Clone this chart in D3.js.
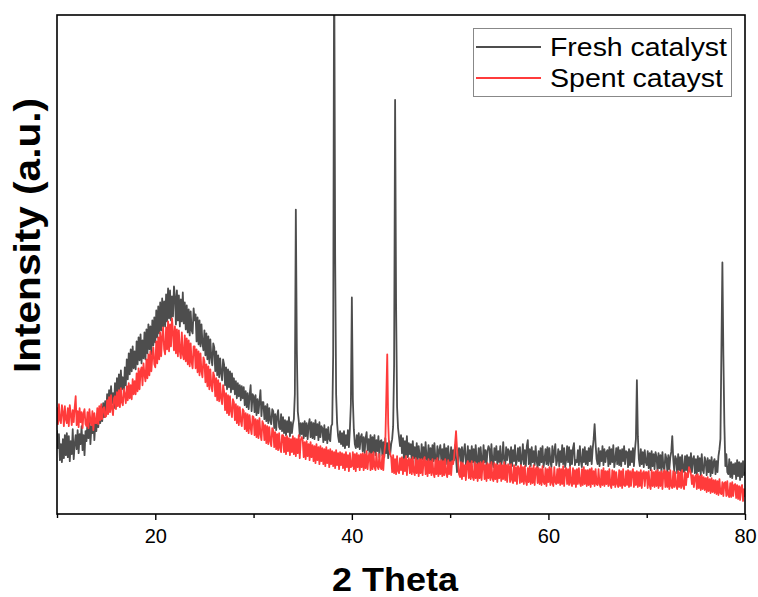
<!DOCTYPE html>
<html><head><meta charset="utf-8">
<script src="https://cdn.jsdelivr.net/npm/d3@7/dist/d3.min.js"></script>
<style>body{margin:0;background:#fff}text{font-family:"Liberation Sans",Arial,sans-serif}</style>
</head><body>
<svg id="c" width="758" height="597"></svg>
<script>
const twoThetaStart = 10, twoThetaStep = 0.1;
const seriesNames = ["Fresh catalyst", "Spent catayst"];
const seriesColors = ["#4d4d4d", "#ff3b3b"];
const xTicks = [10, 20, 30, 40, 50, 60, 70, 80];
const xLabels = [20, 40, 60, 80];
const fresh = [
168,132,160,108,140,104,150,112,158,118,
162,114,156,106,146,120,170,110,140,158,
130,168,122,160,140,176,128,158,118,166,
146,184,152,190,140,176,162,196,148,182,
166,200,174,210,182,216,186,222,194,226,
200,240,210,248,216,256,222,242,212,262,
230,272,240,280,246,288,250,274,244,294,
258,310,270,322,280,330,286,336,292,326,
290,346,300,354,308,360,302,348,312,364,
310,370,322,380,330,376,320,388,338,394,
344,408,354,416,362,424,368,432,376,426,
376,440,386,452,392,448,388,436,396,456,
436,380,448,388,438,376,430,386,444,382,
424,370,418,364,410,358,406,368,362,412,
388,400,346,394,340,388,336,380,342,328,
368,318,362,310,356,302,350,314,298,342,
334,286,326,278,318,274,312,282,268,310,
300,258,294,250,290,254,286,244,282,250,
272,240,266,232,262,236,258,228,256,232,
254,218,246,214,242,210,238,258,206,240,
236,204,238,198,230,202,226,248,196,224,
224,190,216,186,220,182,212,188,180,210,
206,172,200,168,196,208,174,170,200,166,
194,162,188,158,186,164,194,156,184,162,
180,190,240,610,330,205,186,156,182,160,
182,152,186,156,182,150,178,190,154,184,
152,182,150,188,158,180,148,184,154,176,
172,144,178,148,170,142,174,150,146,176,
180,320,1150,520,240,182,156,144,166,140,
162,136,166,132,158,138,168,134,170,220,
434,230,170,140,132,158,134,162,130,154,
160,126,154,122,152,164,128,150,120,158,
120,154,124,158,118,148,126,156,114,146,
148,118,144,114,152,122,142,112,146,120,
140,150,175,300,830,420,215,172,154,136,
158,122,152,110,146,118,156,114,142,120,
140,102,146,112,134,100,142,108,136,114,
104,140,110,134,98,144,112,106,138,108,
132,100,138,106,142,110,96,136,104,128,
138,106,130,98,140,108,132,100,136,110,
104,134,100,128,108,138,112,84,98,132,
130,96,134,104,126,140,100,108,136,102,
128,98,136,104,130,94,138,106,100,132,
100,134,108,96,138,104,128,98,126,136,
130,98,140,106,94,132,108,136,100,126,
104,136,98,110,144,106,96,134,108,130,
126,100,134,96,128,106,138,98,108,132,
106,134,98,110,140,100,128,96,136,148,
100,130,96,134,104,126,98,136,106,94,
126,98,132,104,136,94,108,130,100,134,
98,132,106,94,136,104,126,140,98,108,
130,96,126,104,138,100,132,94,108,136,
104,134,96,128,100,132,142,98,108,104,
128,98,136,106,94,130,104,134,100,126,
98,132,106,136,100,130,150,180,140,110,
100,132,96,126,106,136,98,130,104,124,
128,96,134,100,130,104,138,94,108,132,
100,134,98,128,96,130,106,136,100,126,
124,94,130,98,126,104,132,96,128,150,
268,155,110,96,130,100,124,94,128,104,
98,126,92,122,88,126,96,120,90,124,
114,86,122,92,118,84,124,94,88,120,
112,84,118,90,114,125,156,110,86,116,
110,82,120,88,114,80,118,90,84,116,
88,118,82,114,86,122,84,110,116,82,
110,80,116,86,112,78,120,88,82,114,
106,78,112,84,108,76,114,82,104,110,
80,106,84,116,130,150,330,504,318,180,
96,120,84,80,110,74,104,72,100,80,
102,70,108,76,104,68,102,74,106,78,
84];
const spent = [
214,180,220,188,182,218,204,176,216,190,
182,212,176,218,200,178,208,184,214,236,
178,206,174,212,184,204,172,202,210,180,
176,204,172,210,186,178,206,168,202,182,
182,212,180,216,188,220,190,210,214,194,
196,228,200,234,204,238,210,198,232,236,
210,244,216,248,214,252,224,218,250,240,
222,256,228,262,232,258,230,270,240,266,
240,282,246,292,250,286,294,258,302,280,
266,310,272,320,278,326,286,316,334,300,
294,346,302,354,310,364,316,356,374,330,
320,374,330,386,326,380,336,392,366,328,
376,322,370,316,368,326,312,364,320,310,
358,306,352,300,348,296,342,304,292,336,
336,292,330,284,326,278,322,286,274,314,
306,264,300,256,296,250,290,258,246,284,
276,236,272,228,268,226,262,232,220,258,
246,208,242,202,238,198,236,206,194,230,
224,188,220,182,216,178,214,186,176,210,
206,170,202,166,200,162,198,172,160,196,
194,158,190,154,188,152,192,160,148,186,
180,148,178,142,176,140,174,146,136,172,
168,134,164,130,160,128,162,132,124,158,
158,124,154,120,156,126,152,118,150,124,
156,120,152,116,150,122,158,112,148,154,
148,114,144,110,146,116,140,108,144,114,
138,106,136,102,140,108,134,100,136,106,
132,100,130,96,134,102,128,94,130,100,
126,96,124,92,128,98,122,90,124,98,
122,92,120,88,124,94,118,86,122,94,
96,124,90,120,86,122,94,118,88,120,
94,122,88,120,92,126,90,116,122,88,
120,90,124,94,88,122,96,90,120,94,
90,118,88,122,140,230,320,180,130,120,
114,84,118,82,110,80,116,86,82,112,
88,114,80,110,86,116,78,108,112,82,
110,80,114,84,78,112,82,108,76,110,
82,110,78,108,114,80,106,76,110,82,
106,78,110,82,74,108,80,112,76,106,
80,108,76,106,78,110,82,74,108,80,
104,78,106,100,112,140,166,130,104,80,
74,104,70,102,76,98,68,100,106,72,
102,70,106,74,68,104,72,100,66,102,
72,104,68,100,106,70,98,66,102,72,
100,68,104,72,66,102,70,100,64,98,
72,102,66,98,70,104,68,98,64,100,
96,64,100,68,62,98,66,94,60,96,
92,62,98,64,94,60,96,66,58,92,
64,96,60,92,62,98,58,90,94,62,
92,60,90,58,96,64,60,92,56,90,
64,94,58,92,62,56,94,64,60,90,
62,92,58,90,60,96,56,88,92,60,
90,58,94,62,56,92,60,88,54,90,
60,92,62,56,90,58,94,60,88,56,
88,58,90,54,92,60,86,56,90,60,
58,90,60,54,88,58,92,56,86,60,
86,56,90,58,52,88,58,86,54,84,
60,54,88,56,86,52,90,58,56,86,
58,88,54,86,56,84,90,54,84,58,
86,54,84,56,88,52,82,86,56,84,
84,52,86,58,50,88,56,84,54,86,
56,88,52,84,56,86,50,82,88,54,
86,54,84,50,88,56,52,86,54,84,
56,50,86,54,84,52,88,56,50,84,
58,82,74,94,88,80,60,78,54,74,
78,50,80,52,76,48,78,50,74,48,
72,44,74,46,70,42,72,44,68,42,
68,40,66,38,70,42,40,64,36,62,
64,36,66,38,34,62,34,64,36,58,
60,32,58,30,56,28,54,58,26,50,
34];

const L = 57, R = 745, T = 15, B = 514;
const svg = d3.select("#c");
const x = d3.scaleLinear().domain([10, 80]).range([L, R]);
const y = d3.scaleLinear().domain([0, 1000]).range([B, T]);

svg.append("clipPath").attr("id", "clip").append("rect")
  .attr("x", L).attr("y", T).attr("width", R - L).attr("height", B - T);

const line = d3.line()
  .x((d, i) => x(twoThetaStart + i * twoThetaStep))
  .y(d => y(d));

const g = svg.append("g").attr("clip-path", "url(#clip)");
[fresh, spent].forEach((s, k) => {
  g.append("path").datum(s).attr("d", line)
    .attr("fill", "none").attr("stroke", seriesColors[k])
    .attr("stroke-width", 1.8).attr("stroke-linejoin", "round");
});

// frame
svg.append("rect").attr("x", L).attr("y", T).attr("width", R - L).attr("height", B - T)
  .attr("fill", "none").attr("stroke", "#000").attr("stroke-width", 1.6);

// x axis
const xAxis = d3.axisBottom(x).tickValues(xTicks).tickSize(5)
  .tickFormat(d => xLabels.includes(d) ? d : "");
const ax = svg.append("g").attr("transform", `translate(0,${B})`).call(xAxis);
ax.select(".domain").remove();
ax.selectAll(".tick line").attr("stroke", "#000").attr("stroke-width", 1.4)
  .attr("y2", d => xLabels.includes(d) ? 6 : 4);
ax.selectAll(".tick text").attr("font-size", 20).attr("fill", "#000")
  .attr("y", 15).attr("font-family", '"Liberation Sans",Arial,sans-serif');

// titles
svg.append("text").attr("x", 395).attr("y", 591).attr("text-anchor", "middle")
  .attr("font-size", 33).attr("font-weight", "bold").attr("fill", "#000")
  .attr("textLength", 126).attr("lengthAdjust", "spacingAndGlyphs").text("2 Theta");
svg.append("text").attr("transform", "translate(40,235.5) rotate(-90)")
  .attr("text-anchor", "middle").attr("font-size", 36).attr("font-weight", "bold")
  .attr("fill", "#000").attr("textLength", 275).attr("lengthAdjust", "spacingAndGlyphs")
  .text("Intensity (a.u.)");

// legend
const lg = svg.append("g");
lg.append("rect").attr("x", 473.5).attr("y", 28.5).attr("width", 258).attr("height", 68)
  .attr("fill", "#fff").attr("stroke", "#888").attr("stroke-width", 1);
seriesNames.forEach((n, k) => {
  const yy = 47 + k * 31;
  lg.append("line").attr("x1", 476).attr("x2", 541).attr("y1", yy).attr("y2", yy)
    .attr("stroke", seriesColors[k]).attr("stroke-width", 2);
  lg.append("text").attr("x", 550).attr("y", yy + 8.5).attr("font-size", 25)
    .attr("fill", "#000").attr("textLength", k === 0 ? 177 : 173)
    .attr("lengthAdjust", "spacingAndGlyphs").text(n);
});
</script>
</body></html>
